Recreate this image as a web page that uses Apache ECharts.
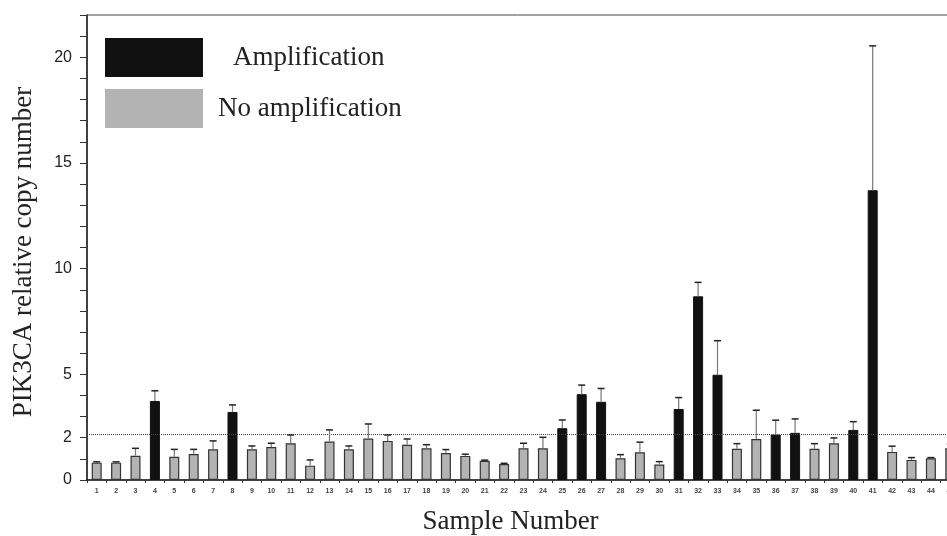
<!DOCTYPE html>
<html>
<head>
<meta charset="utf-8">
<script src="https://cdn.jsdelivr.net/npm/echarts@6/dist/echarts.min.js"></script>
<style>
  html, body { margin: 0; padding: 0; background: #fff; }
  #chart { width: 947px; height: 536px; }
</style>
</head>
<body>
<div id="chart"></div>
<script>
// sample numbers on the x axis
const samples = ['1', '2', '3', '4', '5', '6', '7', '8', '9', '10',
  '11', '12', '13', '14', '15', '16', '17', '18', '19', '20',
  '21', '22', '23', '24', '25', '26', '27', '28', '29', '30',
  '31', '32', '33', '34', '35', '36', '37', '38', '39', '40',
  '41', '42', '43', '44', '45']
// relative copy number (bar height)
const copyNumber = [0.82, 0.82, 1.15, 3.74, 1.10, 1.23, 1.45, 3.22, 1.45, 1.56,
  1.74, 0.68, 1.82, 1.45, 1.96, 1.85, 1.67, 1.50, 1.28, 1.14,
  0.91, 0.76, 1.50, 1.50, 2.45, 4.06, 3.70, 1.03, 1.31, 0.73,
  3.36, 8.69, 4.98, 1.48, 1.94, 2.15, 2.23, 1.48, 1.74, 2.37,
  13.71, 1.33, 0.95, 1.03, 1.50]
// upper error (SD)
const errorUp = [0.04, 0.04, 0.35, 0.48, 0.35, 0.22, 0.40, 0.33, 0.16, 0.18,
  0.39, 0.27, 0.55, 0.16, 0.69, 0.28, 0.27, 0.17, 0.16, 0.08,
  0.03, 0.03, 0.24, 0.52, 0.39, 0.43, 0.63, 0.17, 0.48, 0.14,
  0.54, 0.66, 1.61, 0.24, 1.36, 0.68, 0.66, 0.24, 0.25, 0.39,
  6.83, 0.27, 0.11, 0.03, 0.20]
// samples called "Amplification"
const amplifiedSamples = ['4', '8', '25', '26', '27', '31', '32', '33', '36', '37', '40', '41']
const threshold = 2.15
const yLabels = [0, 2, 5, 10, 15, 20]

let ampData = []
let noAmpData = []
let errData = []
for (let i = 0; i < samples.length; i++) {
  let isAmp = amplifiedSamples.indexOf(samples[i]) >= 0
  ampData.push(isAmp ? copyNumber[i] : '-')
  noAmpData.push(isAmp ? '-' : copyNumber[i])
  errData.push([i, copyNumber[i], errorUp[i]])
}

const serif = '"Liberation Serif", "Times New Roman", serif'
const sans = '"Liberation Sans", Arial, sans-serif'

let myChart = echarts.init(document.getElementById('chart'))
let option = {
  animation: false,
  backgroundColor: '#fff',
  grid: {
    left: 87,
    right: -13,
    top: 15,
    bottom: 56,
    outerBoundsMode: 'none',
    containLabel: false,
    show: true,
    borderColor: '#444',
    borderWidth: 1
  },
  legend: {
    orient: 'vertical',
    left: 100,
    top: 33,
    icon: 'rect',
    itemWidth: 98,
    itemHeight: 39,
    itemGap: 12,
    selectedMode: false,
    data: ['Amplification', 'No amplification'],
    itemStyle: { borderWidth: 0 },
    formatter: function (name) {
      return name === 'Amplification' ? '{a|' + name + '}' : '{b|' + name + '}'
    },
    textStyle: {
      rich: {
        a: { fontFamily: serif, fontSize: 27, color: '#222', padding: [0, 0, 0, 25] },
        b: { fontFamily: serif, fontSize: 27, color: '#222', padding: [0, 0, 0, 10] }
      }
    }
  },
  xAxis: {
    type: 'category',
    data: samples,
    name: 'Sample Number',
    nameLocation: 'middle',
    nameGap: 28,
    nameTextStyle: { fontFamily: serif, fontSize: 27, color: '#222', padding: [0, 26, 0, 0] },
    axisLine: { lineStyle: { color: '#222', width: 1.5 } },
    axisTick: { show: true, length: 3, lineStyle: { color: '#333' } },
    axisLabel: { interval: 0, fontSize: 7, fontFamily: sans, fontWeight: 'bold', color: '#444', margin: 8 }
  },
  yAxis: {
    type: 'value',
    min: 0,
    max: 22,
    interval: 1,
    name: 'PIK3CA relative copy number',
    nameLocation: 'middle',
    nameGap: 50,
    nameTextStyle: { fontFamily: serif, fontSize: 27, color: '#222', padding: [0, 9, 0, 0] },
    axisLine: { show: true, lineStyle: { color: '#222', width: 1.5 } },
    axisTick: { show: true, length: 7, lineStyle: { color: '#333' } },
    splitLine: { show: false },
    axisLabel: {
      fontFamily: sans,
      fontSize: 16,
      color: '#222',
      margin: 15,
      formatter: function (v) {
        return yLabels.indexOf(v) >= 0 ? String(v) : ''
      }
    }
  },
  series: [
    {
      name: 'Amplification',
      type: 'bar',
      data: ampData,
      barWidth: 10,
      barGap: '-100%',
      itemStyle: { color: '#111', borderColor: '#111', borderWidth: 1 },
      markLine: {
        silent: true,
        symbol: 'none',
        label: { show: false },
        lineStyle: { type: 'dotted', color: '#444', width: 1 },
        data: [{ yAxis: threshold }]
      }
    },
    {
      name: 'No amplification',
      type: 'bar',
      data: noAmpData,
      barWidth: 10,
      itemStyle: { color: '#b3b3b3', borderColor: '#333', borderWidth: 1.2 }
    },
    {
      // error bars (upper only)
      name: 'error',
      type: 'custom',
      data: errData,
      z: 5,
      renderItem: function (params, api) {
        let base = api.coord([api.value(0), api.value(1)])
        let top = api.coord([api.value(0), api.value(1) + api.value(2)])
        return {
          type: 'group',
          children: [
            { type: 'line', shape: { x1: base[0], y1: base[1], x2: top[0], y2: top[1] }, style: { stroke: '#777', lineWidth: 1.2 } },
            { type: 'line', shape: { x1: top[0] - 3.5, y1: top[1], x2: top[0] + 3.5, y2: top[1] }, style: { stroke: '#222', lineWidth: 1.5 } }
          ]
        }
      }
    }
  ]
}
myChart.setOption(option)
</script>
</body>
</html>
